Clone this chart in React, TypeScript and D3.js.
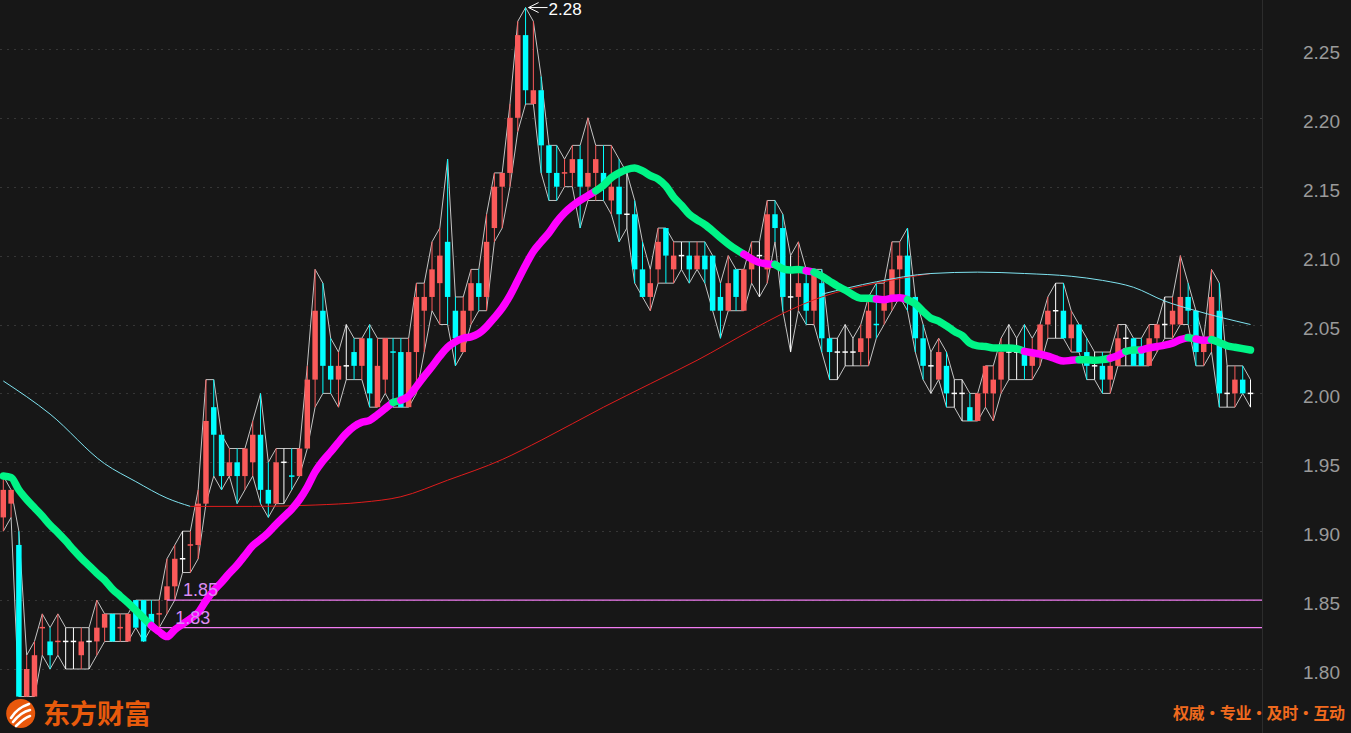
import * as d3 from 'd3';

// daily bars, oldest first
const opens = [
  1.91, 1.92, 1.89, 1.78, 1.78, 1.83, 1.82, 1.82, 1.82, 1.82,
  1.81, 1.82, 1.82, 1.83, 1.84, 1.83, 1.82, 1.85, 1.85, 1.84,
  1.84, 1.85, 1.86, 1.88, 1.89, 1.89, 1.92, 1.99, 1.97, 1.94,
  1.95, 1.94, 1.95, 1.97, 1.93, 1.92, 1.95, 1.94, 1.94, 1.96,
  2.01, 2.06, 2.02, 2.01, 2.02, 2.03, 2.02, 2.04, 1.99, 2.01,
  2.03, 2.03, 1.99, 2.03, 2.06, 2.07, 2.08, 2.11, 2.06, 2.03,
  2.06, 2.08, 2.07, 2.12, 2.15, 2.16, 2.20, 2.26, 2.21, 2.22,
  2.18, 2.16, 2.16, 2.16, 2.17, 2.15, 2.16, 2.16, 2.14, 2.15,
  2.13, 2.13, 2.09, 2.07, 2.09, 2.12, 2.09, 2.10, 2.10, 2.09,
  2.10, 2.10, 2.07, 2.06, 2.09, 2.06, 2.09, 2.10, 2.09, 2.13,
  2.12, 2.07, 2.07, 2.08, 2.06, 2.08, 2.04, 2.03, 2.03, 2.03,
  2.03, 2.04, 2.05, 2.06, 2.07, 2.09, 2.10, 2.07, 2.04, 2.02,
  2.01, 2.02, 2.00, 2.00, 1.99, 1.98, 2.00, 2.00, 2.01, 2.03,
  2.03, 2.03, 2.02, 2.03, 2.05, 2.06, 2.06, 2.04, 2.05, 2.03,
  2.02, 2.02, 2.01, 2.02, 2.04, 2.04, 2.03, 2.02, 2.04, 2.05,
  2.05, 2.05, 2.07, 2.06, 2.03, 2.04, 2.06, 2.00, 2.00, 2.01,
  2.00,
];
const highs = [
  1.94, 1.93, 1.90, 1.81, 1.82, 1.84, 1.83, 1.84, 1.83, 1.83,
  1.83, 1.83, 1.85, 1.84, 1.84, 1.84, 1.84, 1.85, 1.85, 1.85,
  1.85, 1.88, 1.89, 1.90, 1.90, 1.93, 2.01, 2.01, 1.97, 1.96,
  1.96, 1.96, 1.98, 2.00, 1.95, 1.96, 1.96, 1.96, 1.96, 2.02,
  2.09, 2.08, 2.04, 2.03, 2.05, 2.04, 2.04, 2.05, 2.04, 2.04,
  2.04, 2.04, 2.04, 2.08, 2.08, 2.11, 2.12, 2.17, 2.07, 2.07,
  2.09, 2.09, 2.13, 2.16, 2.16, 2.21, 2.27, 2.28, 2.27, 2.23,
  2.18, 2.18, 2.17, 2.18, 2.18, 2.20, 2.18, 2.18, 2.18, 2.17,
  2.16, 2.14, 2.11, 2.09, 2.12, 2.12, 2.11, 2.11, 2.11, 2.11,
  2.11, 2.10, 2.08, 2.10, 2.09, 2.09, 2.11, 2.11, 2.14, 2.14,
  2.13, 2.10, 2.11, 2.09, 2.09, 2.09, 2.04, 2.04, 2.05, 2.04,
  2.05, 2.07, 2.08, 2.08, 2.11, 2.11, 2.12, 2.07, 2.05, 2.03,
  2.04, 2.03, 2.01, 2.01, 2.00, 2.00, 2.02, 2.02, 2.04, 2.05,
  2.04, 2.05, 2.04, 2.05, 2.07, 2.08, 2.08, 2.06, 2.05, 2.04,
  2.03, 2.03, 2.03, 2.05, 2.05, 2.04, 2.04, 2.05, 2.05, 2.07,
  2.07, 2.10, 2.08, 2.06, 2.04, 2.09, 2.08, 2.02, 2.02, 2.02,
  2.01,
];
const lows = [
  1.90, 1.91, 1.78, 1.78, 1.78, 1.81, 1.80, 1.81, 1.80, 1.80,
  1.80, 1.80, 1.81, 1.82, 1.82, 1.82, 1.82, 1.83, 1.82, 1.83,
  1.83, 1.84, 1.85, 1.87, 1.87, 1.88, 1.92, 1.94, 1.93, 1.94,
  1.92, 1.93, 1.94, 1.92, 1.91, 1.92, 1.92, 1.93, 1.94, 1.96,
  1.99, 2.00, 2.00, 1.99, 2.01, 2.01, 2.01, 1.99, 1.99, 2.00,
  1.99, 1.99, 1.99, 2.00, 2.03, 2.06, 2.05, 2.05, 2.02, 2.03,
  2.05, 2.06, 2.06, 2.11, 2.12, 2.15, 2.19, 2.21, 2.21, 2.16,
  2.14, 2.14, 2.15, 2.15, 2.12, 2.14, 2.14, 2.14, 2.13, 2.11,
  2.12, 2.08, 2.07, 2.06, 2.08, 2.08, 2.08, 2.09, 2.08, 2.09,
  2.08, 2.06, 2.04, 2.06, 2.06, 2.06, 2.08, 2.07, 2.08, 2.11,
  2.06, 2.03, 2.06, 2.05, 2.05, 2.03, 2.01, 2.01, 2.02, 2.02,
  2.02, 2.02, 2.04, 2.05, 2.06, 2.07, 2.06, 2.03, 2.01, 2.00,
  2.01, 1.99, 1.99, 1.98, 1.98, 1.98, 1.99, 1.98, 2.00, 2.01,
  2.01, 2.01, 2.01, 2.02, 2.04, 2.04, 2.04, 2.03, 2.03, 2.01,
  2.01, 2.00, 2.00, 2.02, 2.02, 2.02, 2.02, 2.02, 2.03, 2.04,
  2.04, 2.05, 2.05, 2.02, 2.02, 2.03, 1.99, 1.99, 1.99, 2.00,
  1.99,
];
const closes = [
  1.93, 1.93, 1.78, 1.80, 1.81, 1.83, 1.81, 1.82, 1.82, 1.82,
  1.82, 1.82, 1.83, 1.84, 1.82, 1.83, 1.84, 1.83, 1.82, 1.83,
  1.84, 1.86, 1.88, 1.88, 1.89, 1.92, 1.98, 1.97, 1.94, 1.95,
  1.94, 1.96, 1.97, 1.93, 1.92, 1.95, 1.95, 1.94, 1.96, 2.01,
  2.06, 2.02, 2.01, 2.02, 2.02, 2.02, 2.04, 2.00, 2.02, 2.04,
  2.03, 1.99, 2.03, 2.07, 2.07, 2.09, 2.10, 2.07, 2.04, 2.06,
  2.08, 2.07, 2.11, 2.15, 2.16, 2.20, 2.26, 2.22, 2.22, 2.18,
  2.16, 2.15, 2.16, 2.17, 2.15, 2.16, 2.17, 2.15, 2.15, 2.13,
  2.13, 2.09, 2.07, 2.08, 2.11, 2.10, 2.10, 2.10, 2.09, 2.10,
  2.09, 2.06, 2.06, 2.08, 2.07, 2.09, 2.10, 2.10, 2.13, 2.12,
  2.07, 2.07, 2.08, 2.06, 2.09, 2.04, 2.03, 2.03, 2.03, 2.03,
  2.04, 2.06, 2.05, 2.07, 2.09, 2.10, 2.07, 2.04, 2.02, 2.02,
  2.03, 2.00, 2.00, 2.00, 1.98, 2.00, 2.02, 2.01, 2.03, 2.03,
  2.03, 2.02, 2.03, 2.05, 2.06, 2.06, 2.04, 2.05, 2.03, 2.02,
  2.02, 2.01, 2.02, 2.04, 2.04, 2.02, 2.02, 2.04, 2.05, 2.05,
  2.06, 2.07, 2.06, 2.03, 2.04, 2.07, 2.00, 2.00, 2.01, 2.00,
  2.00,
];
// closes before the first visible bar, only used to seed the 20-day average
const leadCloses = [
  1.95, 1.96, 1.94, 1.93, 1.95, 1.94, 1.93, 1.94, 1.95, 1.94,
  1.93, 1.94, 1.94, 1.95, 1.93, 1.94, 1.94, 1.93, 1.94,
];

// slow average: [bar index, price]
const slowFalling: [number, number][] = [
  [0, 2.009], [6, 1.985], [13, 1.949], [17, 1.936], [21, 1.924], [24, 1.918],
];
const slowRising: [number, number][] = [
  [24, 1.918], [32, 1.918], [40, 1.919], [46, 1.921], [51, 1.925], [57, 1.937],
  [64, 1.952], [69, 1.966], [77, 1.99], [83, 2.007], [89, 2.024], [96, 2.046],
  [100, 2.058], [105, 2.07], [112, 2.08], [119, 2.087],
];
const slowTail: [number, number][] = [
  [105, 2.072], [112, 2.081], [119, 2.087], [125, 2.088], [131, 2.087],
  [137, 2.085], [141, 2.082], [145, 2.077], [149, 2.067], [153, 2.06], [160, 2.05],
];

const priceTicks = [1.8, 1.85, 1.9, 1.95, 2.0, 2.05, 2.1, 2.15, 2.2, 2.25];
const levelValues = [1.85, 1.83];
const levelFromBar = [21, 20];

const MA_PERIOD = 20;

export default function App() {
  const W = 1351;
  const H = 733;
  const plotRight = 1262;
  const numFont = 'Liberation Sans, Arial, sans-serif';

  const x = d3.scaleBand<number>()
    .domain(d3.range(closes.length))
    .range([-0.6, 1254.4])
    .paddingInner(0.3)
    .paddingOuter(0.15);
  const cx = (i: number) => (x(i) ?? 0) + x.bandwidth() / 2;

  const y = d3.scaleLinear().domain([1.8, 2.25]).range([669, 48.9]);

  // 20-day moving average, seeded by the lead closes
  const series = [...leadCloses, ...closes];
  const ma = closes.map((_, i) => d3.mean(series.slice(i + leadCloses.length - MA_PERIOD + 1, i + leadCloses.length + 1)) as number);
  const above = closes.map((c, i) => c >= ma[i] - 1e-9);

  // group the average into runs of the same colour
  const runs: { up: boolean; pts: [number, number][] }[] = [];
  ma.forEach((v, i) => {
    const last = runs[runs.length - 1];
    if (!last || last.up !== above[i]) {
      const pts: [number, number][] = i > 0 ? [[i - 1, ma[i - 1]], [i, v]] : [[i, v]];
      runs.push({ up: above[i], pts });
    } else {
      last.pts.push([i, v]);
    }
  });

  const pointLine = d3.line<[number, number]>()
    .x(d => cx(d[0]))
    .y(d => y(d[1]))
    .curve(d3.curveMonotoneX);

  const envelope = d3.line<number>().x((_, i) => cx(i)).y(d => y(d));

  const RED = '#fa5a5a';
  const CYAN = '#00ffff';
  const candleColor = (i: number) => {
    if (closes[i] > opens[i]) return RED;
    if (closes[i] < opens[i]) return CYAN;
    const prev = i > 0 ? closes[i - 1] : closes[i];
    if (closes[i] > prev) return RED;
    if (closes[i] < prev) return CYAN;
    return '#ffffff';
  };

  const topIdx = d3.maxIndex(highs);
  const topX = cx(topIdx);
  const topY = y(highs[topIdx]);

  const bw = x.bandwidth();

  return (
    <div style={{ position: 'fixed', left: 0, top: 0, width: W, height: H, background: '#171717' }}>
      <svg width={W} height={H} style={{ display: 'block' }}>
        <rect width={W} height={H} fill="#171717" />

        {/* grid */}
        {priceTicks.map(t => (
          <line key={t} x1={0} x2={plotRight} y1={Math.round(y(t)) + 0.5} y2={Math.round(y(t)) + 0.5}
            stroke="#363636" strokeDasharray="2 5" />
        ))}
        <line x1={plotRight + 0.5} x2={plotRight + 0.5} y1={0} y2={H} stroke="#2c2c2c" />

        {/* high / low envelope */}
        <path d={envelope(highs) ?? ''} fill="none" stroke="#c4c4c4" strokeWidth={1} />
        <path d={envelope(lows) ?? ''} fill="none" stroke="#c4c4c4" strokeWidth={1} />

        {/* candles */}
        {closes.map((c, i) => {
          const col = candleColor(i);
          const xc = cx(i);
          const top = y(Math.max(opens[i], c));
          const bot = y(Math.min(opens[i], c));
          return (
            <g key={i}>
              <line x1={xc} x2={xc} y1={y(highs[i])} y2={y(lows[i])} stroke={col} strokeWidth={1} />
              {opens[i] === c ? (
                <line x1={x(i)} x2={(x(i) ?? 0) + bw} y1={top} y2={top} stroke={col} strokeWidth={1.5} />
              ) : (
                <rect x={x(i)} y={top} width={bw} height={Math.max(1, bot - top)} fill={col} />
              )}
            </g>
          );
        })}

        {/* slow average */}
        <path d={pointLine(slowFalling) ?? ''} fill="none" stroke="#7fe3f0" strokeWidth={1} />
        <path d={pointLine(slowRising) ?? ''} fill="none" stroke="#e01c1c" strokeWidth={1} />
        <path d={pointLine(slowTail) ?? ''} fill="none" stroke="#7fe3f0" strokeWidth={1} />

        {/* support levels */}
        {levelValues.map((v, k) => (
          <line key={v} x1={cx(levelFromBar[k])} x2={plotRight} y1={y(v)} y2={y(v)} stroke="#f27cf2" strokeWidth={1.3} />
        ))}

        {/* 20-day average, two colours */}
        {runs.map((r, k) => (
          <path key={k} d={pointLine(r.pts) ?? ''} fill="none" stroke={r.up ? '#ff00ff' : '#00f587'}
            strokeWidth={7.5} strokeLinecap="round" strokeLinejoin="round" />
        ))}

        {levelValues.map((v, k) => (
          <text key={v} x={cx(levelFromBar[k]) + 16} y={y(v) - 4} fill="#da8cf2"
            fontFamily={numFont} fontSize={18}>{v.toFixed(2)}</text>
        ))}

        {/* top marker */}
        <g stroke="#ffffff" strokeWidth={1} fill="none">
          <line x1={topX + 3} x2={topX + 22} y1={topY} y2={topY} />
          <polyline points={`${topX + 13},${topY - 5} ${topX + 3},${topY} ${topX + 13},${topY + 5}`} />
        </g>
        <text x={topX + 23} y={topY + 7.5} fill="#ffffff" fontFamily={numFont} fontSize={17}>
          {highs[topIdx].toFixed(2)}
        </text>

        {/* price axis */}
        {priceTicks.map(t => (
          <text key={t} x={1340} y={y(t) + 10} textAnchor="end" fill="#9a9a9a"
            fontFamily={numFont} fontSize={19}>{t.toFixed(2)}</text>
        ))}

        {/* brand */}
        <circle cx={20.7} cy={713.5} r={14.5} fill="#e8580c" />
        <g stroke="#ffffff" strokeWidth={2.6} fill="none" strokeLinecap="round">
          <path d="M11,718 Q17,708 29,704" />
          <path d="M13,722 Q21,712 30,710" />
          <path d="M16,726 Q24,718 30,716" />
        </g>
        <text x={43} y={724} fill="#e85a0c" fontFamily="Noto Sans CJK SC, sans-serif" fontWeight={700} fontSize={27}>
          东方财富
        </text>
        <text x={1345} y={719} textAnchor="end" fill="#f06a1e" fontFamily="Noto Sans CJK SC, sans-serif"
          fontWeight={700} fontSize={16} textLength={172} lengthAdjust="spacing">
          权威·专业·及时·互动
        </text>
      </svg>
    </div>
  );
}
